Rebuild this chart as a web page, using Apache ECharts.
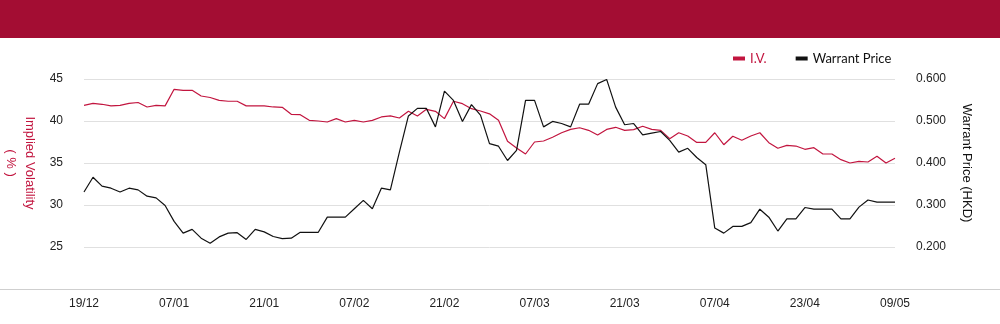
<!DOCTYPE html>
<html>
<head>
<meta charset="utf-8">
<script src="https://cdn.jsdelivr.net/npm/echarts@6/dist/echarts.min.js"></script>
<style>
html,body{margin:0;padding:0;background:#fff;}
#chart{width:1000px;height:324px;}
</style>
</head>
<body>
<div id="chart"></div>
<script>
const dates = ['19/12','20/12','23/12','24/12','27/12','30/12','31/12','02/01','03/01','06/01',
'07/01','08/01','09/01','10/01','13/01','14/01','15/01','16/01','17/01','20/01',
'21/01','22/01','23/01','24/01','27/01','28/01','03/02','04/02','05/02','06/02',
'07/02','10/02','11/02','12/02','13/02','14/02','17/02','18/02','19/02','20/02',
'21/02','24/02','25/02','26/02','27/02','28/02','03/03','04/03','05/03','06/03',
'07/03','10/03','11/03','12/03','13/03','14/03','17/03','18/03','19/03','20/03',
'21/03','24/03','25/03','26/03','27/03','28/03','31/03','01/04','02/04','03/04',
'07/04','08/04','09/04','10/04','11/04','14/04','15/04','16/04','17/04','22/04',
'23/04','24/04','25/04','28/04','29/04','30/04','02/05','06/05','07/05','08/05','09/05'];

const ivValues = [41.87,42.1,41.99,41.8,41.87,42.1,42.2,41.67,41.87,41.8,
43.77,43.65,43.65,42.98,42.8,42.46,42.35,42.35,41.8,41.8,
41.8,41.67,41.63,40.8,40.75,40.08,40.0,39.88,40.28,39.88,
40.08,39.88,40.08,40.48,40.6,40.36,41.15,40.6,41.39,41.15,
40.28,42.35,42.06,41.47,41.19,40.85,40.08,37.58,36.79,36.07,
37.5,37.62,38.06,38.6,39.0,39.2,38.89,38.33,39.0,39.25,
38.89,38.97,39.37,39.0,38.89,37.9,38.6,38.21,37.45,37.46,
38.6,37.18,38.18,37.7,38.21,38.6,37.42,36.75,37.1,37.02,
36.63,36.82,36.07,36.07,35.4,35.0,35.2,35.12,35.8,35.0,35.56];

const priceValues = [0.331,0.366,0.345,0.340,0.331,0.340,0.336,0.321,0.317,0.299,
0.261,0.233,0.242,0.221,0.209,0.224,0.233,0.234,0.218,0.242,
0.236,0.225,0.220,0.221,0.235,0.235,0.235,0.271,0.271,0.271,
0.291,0.311,0.291,0.340,0.336,0.426,0.512,0.530,0.530,0.486,
0.571,0.549,0.499,0.539,0.514,0.446,0.440,0.406,0.430,0.549,
0.549,0.486,0.499,0.494,0.486,0.540,0.540,0.589,0.599,0.533,
0.491,0.494,0.467,0.471,0.475,0.454,0.426,0.435,0.413,0.396,
0.245,0.233,0.249,0.249,0.258,0.290,0.271,0.238,0.267,0.267,
0.294,0.290,0.290,0.290,0.267,0.267,0.295,0.312,0.307,0.307,0.307];

const seriesNames = ['I.V.', 'Warrant Price'];
const leftAxisName = 'Implied Volatility\n( % )';
const rightAxisName = 'Warrant Price (HKD)';

const RED = '#c2153f';
const chart = echarts.init(document.getElementById('chart'), null, {renderer: 'canvas'});
chart.setOption({
  animation: false,
  backgroundColor: '#ffffff',
  graphic: [
    {type: 'rect', left: 0, top: 0, shape: {width: 1000, height: 38}, style: {fill: '#a30d33'}, silent: true},
    {type: 'line', shape: {x1: 0, y1: 289.5, x2: 1000, y2: 289.5}, style: {stroke: '#cfcfcf', lineWidth: 1}, silent: true}
  ],
  legend: {
    left: 728, top: 47,
    icon: 'rect', itemWidth: 12, itemHeight: 4, itemGap: 29,
    textStyle: {fontFamily: 'Lato', fontSize: 13, color: '#111'},
    data: [
      {name: seriesNames[0], textStyle: {color: RED}},
      {name: seriesNames[1]}
    ]
  },
  grid: {left: 84, right: 105, top: 79, bottom: 77, containLabel: false, outerBoundsMode: 'none'},
  xAxis: {
    type: 'category', data: dates, boundaryGap: false, offset: 43,
    axisLine: {show: false}, axisTick: {show: false}, splitLine: {show: false},
    axisLabel: {interval: 9, color: '#222', fontSize: 12, fontFamily: 'Liberation Sans Narrow, Arial, sans-serif', margin: 8}
  },
  yAxis: [
    {
      type: 'value', min: 25, max: 45, interval: 5, position: 'left',
      name: leftAxisName, nameLocation: 'middle', nameRotate: -90, nameGap: 44,
      nameTextStyle: {color: RED, fontSize: 13, fontFamily: 'Liberation Sans, Arial, sans-serif', lineHeight: 19},
      axisLine: {show: false}, axisTick: {show: false},
      axisLabel: {color: '#222', fontSize: 12, margin: 21, fontFamily: 'Liberation Sans, Arial, sans-serif'},
      splitLine: {lineStyle: {color: '#e0e0e0', width: 1}}
    },
    {
      type: 'value', min: 0.2, max: 0.6, interval: 0.1, position: 'right',
      name: rightAxisName, nameLocation: 'middle', nameRotate: -90, nameGap: 65,
      nameTextStyle: {color: '#111', fontSize: 13, fontFamily: 'Liberation Sans, Arial, sans-serif'},
      axisLine: {show: false}, axisTick: {show: false},
      axisLabel: {color: '#222', fontSize: 12, margin: 21, fontFamily: 'Liberation Sans, Arial, sans-serif',
        formatter: v => v.toFixed(3)},
      splitLine: {show: false}
    }
  ],
  series: [
    {name: seriesNames[0], type: 'line', yAxisIndex: 0, data: ivValues, showSymbol: false, symbol: 'none',
     lineStyle: {color: RED, width: 1.2}, itemStyle: {color: RED}},
    {name: seriesNames[1], type: 'line', yAxisIndex: 1, data: priceValues, showSymbol: false, symbol: 'none',
     lineStyle: {color: '#111', width: 1.2}, itemStyle: {color: '#111'}}
  ]
});
</script>
</body>
</html>
